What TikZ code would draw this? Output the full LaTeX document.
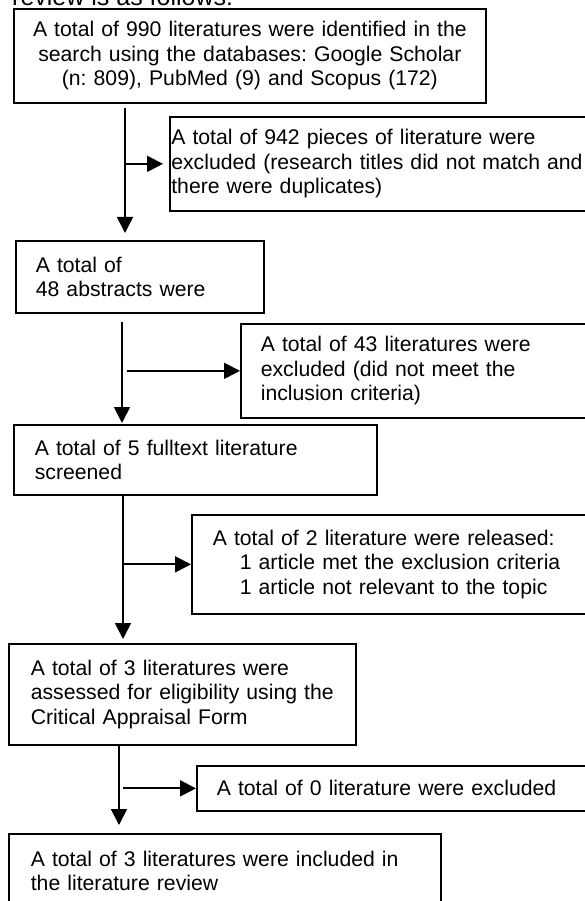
\documentclass[tikz,border=0pt]{standalone}
\usepackage{fontspec}
\setmainfont{Liberation Sans}
\usepackage{tikz}
\usetikzlibrary{arrows.meta}
\frenchspacing

\begin{document}
\begin{tikzpicture}[x=1pt, y=-1pt,
    box/.style={draw, line width=1.7pt, anchor=north west, align=left, inner ysep=0pt,
      font=\fontsize{21.2}{24.5}\selectfont},
    arr/.style={line width=1.8pt, -{Triangle[length=16pt, width=16pt]}}
  ]
  \useasboundingbox (0,0) rectangle (585,901);
  \node[anchor=base west, inner sep=0pt, font=\fontsize{25}{30}\selectfont] (intro) at (12,6) {review is as follows:};

  \node[box, align=center, text width=452pt, inner xsep=10pt, minimum height=94pt] (S1) at (13,8)
    {A total of 990 literatures were identified in the\\ search using the databases: Google Scholar\\ (n: 809), PubMed (9) and Scopus (172)};
  \node[box, text width=450pt, inner xsep=1.5pt, minimum height=94pt] (X1) at (169,116)
    {A total of 942 pieces of literature were\\ excluded (research titles did not match and\\ there were duplicates)};
  \node[box, text width=208pt, inner xsep=20pt, minimum height=72pt] (S2) at (15,240)
    {A total of\\ 48 abstracts were};
  \node[box, text width=380pt, inner xsep=20pt, minimum height=94pt] (X2) at (240,323)
    {A total of 43 literatures were\\ excluded (did not meet the\\ inclusion criteria)};
  \node[box, text width=321pt, inner xsep=21pt, minimum height=70pt] (S3) at (13,424)
    {A total of 5 fulltext literature\\ screened};
  \node[box, text width=420pt, inner xsep=21pt, minimum height=99pt] (X3) at (191,514)
    {A total of 2 literature were released:\\ \hspace*{27pt}1 article met the exclusion criteria\\ \hspace*{27pt}1 article not relevant to the topic};
  \node[box, text width=303pt, inner xsep=22pt, minimum height=101pt] (S4) at (8,643)
    {A total of 3 literatures were\\ assessed for eligibility using the\\ Critical Appraisal Form};
  \node[box, text width=400pt, inner xsep=20pt, minimum height=45pt] (X4) at (196,765)
    {A total of 0 literature were excluded};
  \node[box, text width=388pt, inner xsep=22pt, minimum height=74pt] (S5) at (8,833)
    {A total of 3 literatures were included in\\ the literature review};

  \coordinate (t1) at (125,0);
  \coordinate (t2) at (122,0);
  \coordinate (t3) at (123,0);
  \coordinate (t4) at (119,0);

  \draw[arr, shorten <=4pt, shorten >=7pt] (S1.south -| t1) -- (S2.north -| t1);
  \draw[arr, shorten >=6pt] (t1 |- X1.west) -- (X1.west);
  \draw[arr, shorten <=8pt, shorten >=1pt] (S2.south -| t2) -- (S3.north -| t2);
  \draw[arr, shorten <=5pt] (t2 |- X2.west) -- (X2.west);
  \draw[arr, shorten >=4pt] (S3.south -| t3) -- (S4.north -| t3);
  \draw[arr] (t3 |- X3.west) -- (X3.west);
  \draw[arr, shorten >=8pt] (S4.south -| t4) -- (S5.north -| t4);
  \draw[arr, shorten <=4pt] (t4 |- X4.west) -- (X4.west);
\end{tikzpicture}
\end{document}
